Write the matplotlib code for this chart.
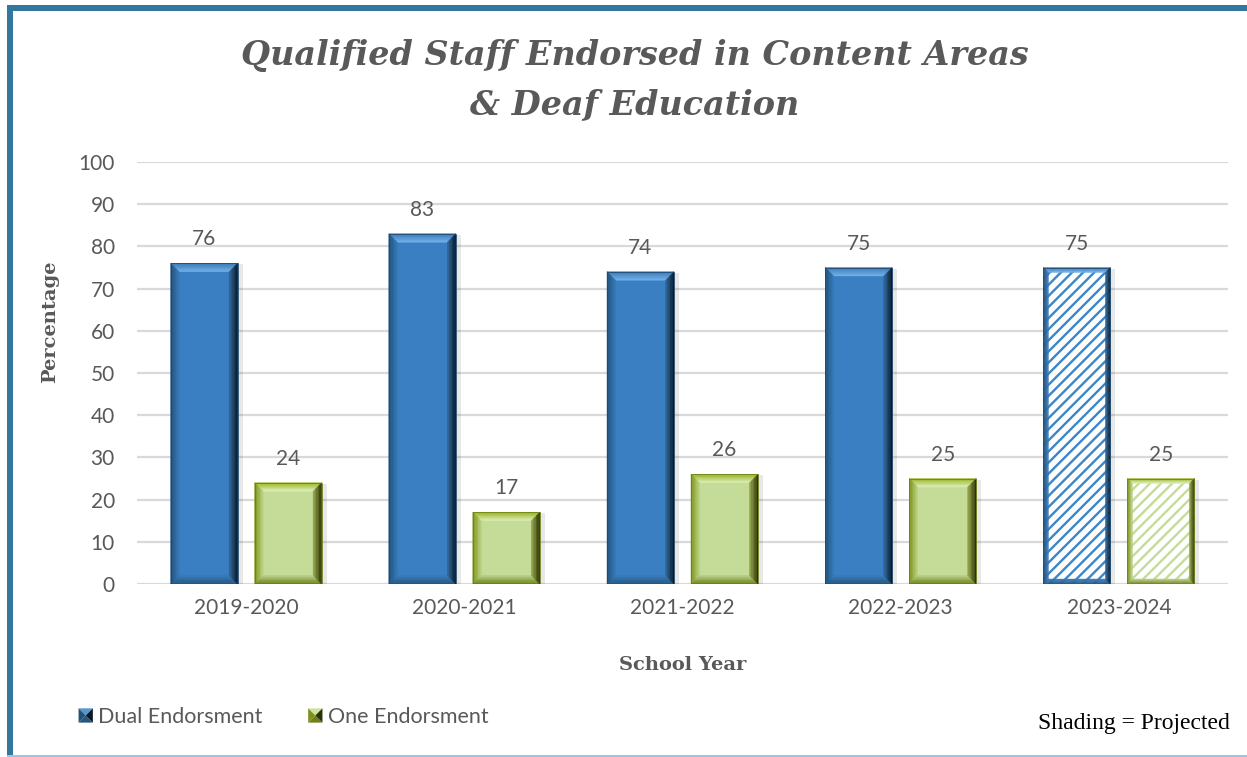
import matplotlib
matplotlib.use("Agg")
import matplotlib.pyplot as plt
import numpy as np
from matplotlib.colors import to_rgb
from matplotlib.patches import Polygon, Rectangle
from matplotlib.legend_handler import HandlerBase

# ---- data -------------------------------------------------------------
years = ["2019-2020", "2020-2021", "2021-2022", "2022-2023", "2023-2024"]
dual_endorsement = [76, 83, 74, 75, 75]
one_endorsement = [24, 17, 26, 25, 25]
projected = [False, False, False, False, True]
y_ticks = [0, 10, 20, 30, 40, 50, 60, 70, 80, 90, 100]

# ---- styling ----------------------------------------------------------
TEXT_GRAY = "#595959"
GRID = "#D9D9D9"
FRAME_BLUE = "#31779F"

# each bevel side fades from an outer colour to an inner colour
BLUE = dict(face="#3A7FC1",
            top=("#3F7DB8", "#6EAEE6"), left=("#22527C", "#3676B2"),
            right=("#0A1A28", "#2E6496"), bottom=("#25577F", "#3779B6"),
            edge="#1E4A72", hatch="#3A86C8", key="#3A7FC1")
GREEN = dict(face="#C5DC99",
             top=("#98B624", "#D9EAAE"), left=("#7C931C", "#B7CE7C"),
             right=("#2C3304", "#8E9F48"), bottom=("#6C8116", "#B3C980"),
             edge="#6E7F14", hatch="#C5DC99", key="#C5DC99")

SANS = ["Lato", "DejaVu Sans"]
SERIF = ["DejaVu Serif"]

W, H = 1247, 757
fig = plt.figure(figsize=(W / 100, H / 100), dpi=100)
fig.patch.set_facecolor("white")

# chart frame: heavy blue top/left border, thin light line at the bottom
fig.add_artist(Rectangle((7 / W, 1 - 11 / H), 2, 6 / H, transform=fig.transFigure,
                         facecolor=FRAME_BLUE, edgecolor="none"))
fig.add_artist(Rectangle((7 / W, 0), 6 / W, 1 - 5 / H, transform=fig.transFigure,
                         facecolor=FRAME_BLUE, edgecolor="none"))
fig.add_artist(Rectangle((7 / W, 0), 2, 2 / H, transform=fig.transFigure,
                         facecolor="#9DC3E6", edgecolor="none"))

ax = fig.add_axes([137 / W, 1 - 584 / H, (1228 - 137) / W, (584 - 162) / H])
ax.set_xlim(-0.5, len(years) - 0.5)
ax.set_ylim(0, 100)
for s in ax.spines.values():
    s.set_visible(False)
ax.set_yticks(y_ticks)
ax.set_xticks(range(len(years)))
ax.set_xticklabels(years)
ax.tick_params(length=0, labelsize=15, labelcolor=TEXT_GRAY)
ax.tick_params(axis="x", pad=10)
ax.tick_params(axis="y", pad=16)
for lab in ax.get_xticklabels() + ax.get_yticklabels():
    lab.set_fontfamily(SANS)
ax.yaxis.grid(True, color=GRID, linewidth=1.6)
ax.set_axisbelow(True)

fig.canvas.draw()
# pixel size of one data unit, used to keep the bevel width constant
(x0p, y0p), (x1p, y1p) = ax.transData.transform([(0, 0), (1, 1)])
px_x, px_y = x1p - x0p, y1p - y0p

BAR_W = 0.307
SHIFT = 0.1925
plt.rcParams["hatch.linewidth"] = 1.7


def lerp(c1, c2, t):
    a, b = np.array(to_rgb(c1)), np.array(to_rgb(c2))
    return tuple(a + (b - a) * t)


def bevel_bar(x_center, value, pal, hatched):
    left, right = x_center - BAR_W / 2, x_center + BAR_W / 2
    bev = 5.0 if hatched else 8.5
    steps = 6
    # soft drop shadow on the right
    ax.add_patch(Rectangle((left + 2 / px_x, 0), BAR_W + 3 / px_x, value - 1 / px_y,
                           facecolor="#000000", alpha=0.09, edgecolor="none", zorder=2))
    if hatched:
        face = Rectangle((left, 0), BAR_W, value, facecolor="white",
                         edgecolor=pal["hatch"], linewidth=0, hatch="///", zorder=3)
    else:
        face = Rectangle((left, 0), BAR_W, value, facecolor=pal["face"],
                         edgecolor="none", zorder=3)
    ax.add_patch(face)
    for k in range(steps):
        d0, d1 = bev * k / steps, bev * (k + 1) / steps
        ax0, ay0 = d0 / px_x, d0 / px_y
        ax1, ay1 = d1 / px_x, d1 / px_y
        t = k / (steps - 1)
        rings = dict(
            top=[(left + ax0, value - ay0), (right - ax0, value - ay0),
                 (right - ax1, value - ay1), (left + ax1, value - ay1)],
            bottom=[(left + ax0, ay0), (right - ax0, ay0), (right - ax1, ay1), (left + ax1, ay1)],
            left=[(left + ax0, ay0), (left + ax0, value - ay0),
                  (left + ax1, value - ay1), (left + ax1, ay1)],
            right=[(right - ax0, ay0), (right - ax0, value - ay0),
                   (right - ax1, value - ay1), (right - ax1, ay1)],
        )
        for side, pts in rings.items():
            c_out, c_in = pal[side]
            ax.add_patch(Polygon(pts, closed=True, facecolor=lerp(c_out, c_in, t),
                                 edgecolor=lerp(c_out, c_in, t), linewidth=0.3, zorder=4))
    ax.add_patch(Rectangle((left, 0), BAR_W, value, facecolor="none",
                           edgecolor=pal["edge"], linewidth=0.6, zorder=5))
    ax.annotate(f"{value}", (x_center, value), xytext=(0, 10), textcoords="offset points",
                ha="center", va="bottom", fontsize=15, color=TEXT_GRAY, family=SANS)


for i in range(len(years)):
    bevel_bar(i - SHIFT, dual_endorsement[i], BLUE, projected[i])
    bevel_bar(i + SHIFT, one_endorsement[i], GREEN, projected[i])

# titles
fig.text(635 / W, 1 - 80 / H, "Qualified Staff Endorsed in Content Areas\n& Deaf Education",
         ha="center", va="center", fontsize=24, fontweight="bold", fontstyle="italic",
         family=SERIF, color=TEXT_GRAY, linespacing=1.6)
fig.text(50 / W, 1 - 322 / H, "Percentage", rotation=90, ha="center", va="center",
         fontsize=14, fontweight="bold", family=SERIF, color=TEXT_GRAY)
fig.text(683 / W, 1 - 665 / H, "School Year", ha="center", va="center",
         fontsize=14, fontweight="bold", family=SERIF, color=TEXT_GRAY)
fig.text(1230 / W, 1 - 724 / H, "Shading = Projected", ha="right", va="center",
         fontsize=17, family=["Liberation Serif"], color="black")


# legend keys drawn as small bevelled squares (four shaded triangles)
class BevelKey(HandlerBase):
    def __init__(self, pal):
        super().__init__()
        self.pal = pal

    def create_artists(self, legend, orig_handle, xdescent, ydescent, width, height,
                       fontsize, trans):
        s = height * 0.95
        x0 = width - s
        y0 = (height - s) / 2
        cx, cy = x0 + s / 2, y0 + s / 2
        p = self.pal
        tris = [
            ([(x0, y0 + s), (x0 + s, y0 + s), (cx, cy)], lerp(p["top"][1], p["key"], 0.5)),
            ([(x0, y0), (x0 + s, y0), (cx, cy)], p["bottom"][0]),
            ([(x0, y0), (x0, y0 + s), (cx, cy)], p["left"][0]),
            ([(x0 + s, y0), (x0 + s, y0 + s), (cx, cy)], p["right"][0]),
        ]
        return [Polygon(pts, closed=True, facecolor=c, edgecolor="none", transform=trans)
                for pts, c in tris]


h1 = Rectangle((0, 0), 1, 1)
h2 = Rectangle((0, 0), 1, 1)
leg = fig.legend([h1, h2], ["Dual Endorsment", "One Endorsment"],
                 handler_map={h1: BevelKey(BLUE), h2: BevelKey(GREEN)},
                 loc="center left", bbox_to_anchor=(61 / W, 1 - 717 / H), ncol=2,
                 frameon=False, prop={"family": SANS, "size": 15.5},
                 handlelength=0.78, handletextpad=0.25, columnspacing=2.0,
                 borderpad=0.2)
for t in leg.get_texts():
    t.set_color(TEXT_GRAY)

fig.savefig("out.png", dpi=100, facecolor="white")
